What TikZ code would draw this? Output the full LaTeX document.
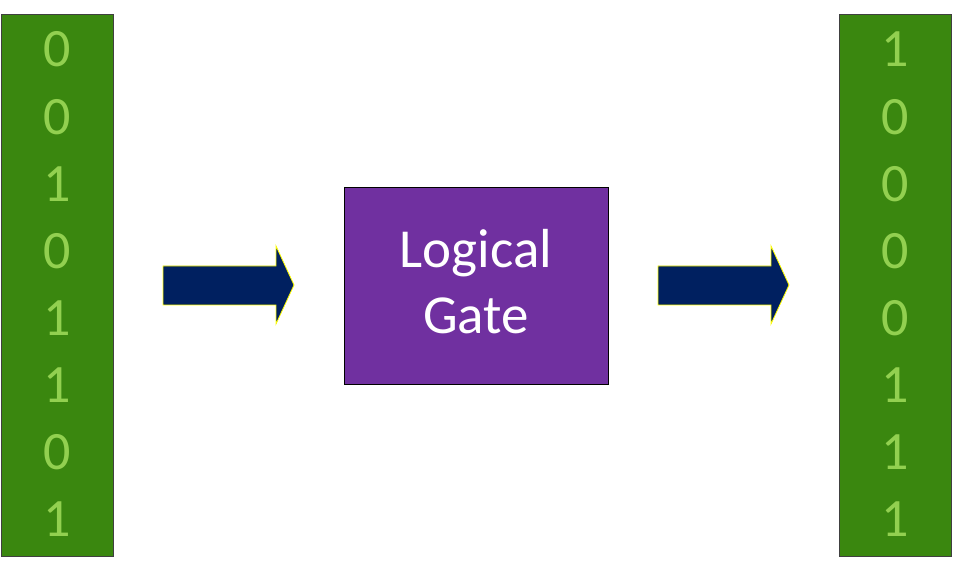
\documentclass[tikz,border=0pt]{standalone}
\usepackage{fontspec}
\setmainfont{Carlito}
\definecolor{bargreen}{HTML}{3A870F}
\definecolor{digitgreen}{HTML}{92D050}
\definecolor{gatepurple}{HTML}{7030A0}
\definecolor{arrownavy}{HTML}{002060}
\definecolor{arrowedge}{HTML}{FFFF00}
\begin{document}
\begin{tikzpicture}[x=1pt,y=1pt,
  bar/.style={fill=bargreen,draw=black!75,line width=0.8pt},
  digit/.style={text=digitgreen,font=\fontsize{54}{54}\selectfont,anchor=base,inner sep=0pt},
  gatebox/.style={fill=gatepurple,draw=black,line width=0.8pt},
  gatetext/.style={text=white,font=\fontsize{55}{55}\selectfont,anchor=base,inner sep=0pt},
  bigarrow/.style={fill=arrownavy,draw=arrowedge,line width=0.8pt,line join=miter}]
\useasboundingbox (0,0) rectangle (953,580);
% bars
\draw[bar] (1,24) rectangle (113,566);
\draw[bar] (839,24) rectangle (951,566);
% digits
\foreach \d [count=\i from 0] in {0,0,1,0,1,1,0,1}
  \node[digit] (l\i) at (57,{580-67-67.1*\i}) {\d};
\foreach \d [count=\i from 0] in {1,0,0,0,0,1,1,1}
  \node[digit] (r\i) at (895,{580-67-67.1*\i}) {\d};
% gate
\node[gatebox,minimum width=264pt,minimum height=197pt,inner sep=0pt] (gate) at (476,{580-285.5}) {};
\node[gatetext] (g1) at (476,{580-268}) {Logical};
\node[gatetext] (g2) at (476,{580-334}) {Gate};
% arrows
\draw[bigarrow] (163,{580-266}) -- (276,{580-266}) -- (276,{580-246}) -- (294,{580-285}) -- (276,{580-324}) -- (276,{580-305}) -- (163,{580-305}) -- cycle;
\draw[bigarrow] (658,{580-266}) -- (771,{580-266}) -- (771,{580-246}) -- (789,{580-285}) -- (771,{580-324}) -- (771,{580-305}) -- (658,{580-305}) -- cycle;
\end{tikzpicture}
\end{document}
